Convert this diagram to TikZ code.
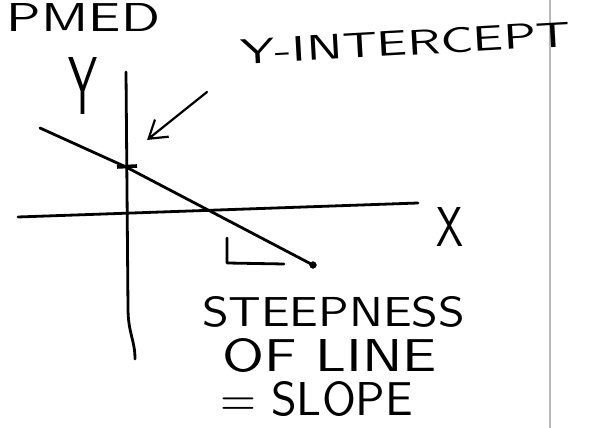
\documentclass[tikz,border=0pt]{standalone}
\usepackage{graphicx}
\usepackage{tikz}
\usetikzlibrary{positioning, arrows.meta}
\tikzset{
	pen/.style={black, line width=2.8pt, line cap=round, line join=round},
	penThin/.style={black, line width=2.2pt, line cap=round, line join=round},
	margin/.style={gray!55, line width=1.6pt},
	scrawl/.style={inner sep=0pt, outer sep=0pt, anchor=south west, font=\sffamily}
}

\begin{document}
\begin{tikzpicture}[x=1pt, y=1pt]
\useasboundingbox (0,0) rectangle (589,428);
% page margin
\coordinate (mt) at (550,428);
\coordinate (mb) at (550,0);
\draw [margin] (mt) -- (mb);
% axes
\coordinate (yt) at (126,356);
\coordinate (ym) at (128,120);
\coordinate (yb) at (135,69);
\coordinate (xl) at (18,211);
\coordinate (xr) at (418,225);
\draw [pen] (yt) -- (ym) .. controls (128,95) and (135,88) .. (yb);
\draw [pen] (xl) -- (xr);
% the line
\coordinate (s) at (40,300);
\coordinate (b) at (126,261);
\coordinate (e) at (313,163);
\draw [pen] (s) -- (b) -- (e);
\draw [fill] (e) circle (3.4);
\coordinate (tl) at (117,261);
\coordinate (tr) at (137,262);
\draw [black, line width=3.6pt] (tl) -- (tr);
% right angle
\coordinate (la) at (227,190);
\coordinate (lb) at (227,165);
\coordinate (lc) at (284,164);
\draw [pen] (la) -- (lb) -- (lc);
% arrow to intercept
\coordinate (p) at (207,336);
\coordinate (q) at (147,288);
\draw [penThin, -{Straight Barb[length=17pt, width=22pt]}] (p) -- (q);
% labels
\node [scrawl] (top) at (7,396) {\resizebox{153pt}{28pt}{PMED}};
\node [scrawl] (ylab) at (68,313) {\resizebox{29pt}{57pt}{Y}};
\node [inner sep=0pt, font=\sffamily, rotate=3.2] (yint) at (406,385) {\resizebox{330pt}{25pt}{Y-INTERCEPT}};
\node [scrawl] (xlab) at (436,181) {\resizebox{27pt}{39pt}{X}};
\node [scrawl] (steep) at (202,101) {\resizebox{263pt}{30pt}{STEEPNESS}};
\node [scrawl] (ofline) at (222,55) {\resizebox{215pt}{33pt}{OF LINE}};
\node [scrawl] (slope) at (220,11) {\resizebox{193pt}{34pt}{= SLOPE}};
\end{tikzpicture}
\end{document}
